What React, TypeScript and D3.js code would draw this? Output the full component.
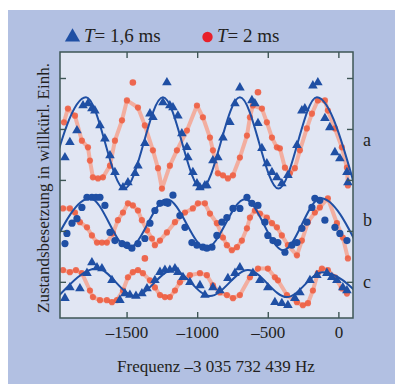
import React from "react";
import * as d3 from "d3";

type P = [number, number];

const xDomain: P = [-1975, 100];
const yDomain: P = [-0.7, 4.52];
const xTicks = [-1500, -1000, -500, 0];
const yTicks = [0, 1, 2, 3, 4];
const xTitle = "Frequenz –3 035 732 439 Hz";
const yTitle = "Zustandsbesetzung in willkürl. Einh.";
const legendLabels = ["= 1,6 ms", "= 2 ms"];
const rowNames = ["a", "b", "c"];
const rowLabelY = [2.78, 1.22, 0.0];

const aBlue: P[] = [[-1940,2.45],[-1905,2.75],[-1855,2.98],[-1812,3.47],[-1777,3.51],[-1749,3.41],[-1728,3.37],[-1692,3.08],[-1657,2.82],[-1621,2.49],[-1586,2.16],[-1529,1.86],[-1494,1.96],[-1444,2.14],[-1423,2.29],[-1374,2.73],[-1338,3.31],[-1317,3.24],[-1246,3.53],[-1218,3.92],[-1197,3.47],[-1175,3.43],[-1140,3.27],[-1112,2.92],[-1076,2.65],[-1069,2.45],[-1034,2.16],[-1005,1.94],[-984,1.86],[-949,1.90],[-935,1.90],[-892,2.39],[-857,2.45],[-821,2.84],[-772,3.14],[-736,3.51],[-701,3.82],[-616,3.57],[-595,3.51],[-573,3.12],[-545,2.63],[-510,2.33],[-474,2.16],[-439,2.06],[-404,1.94],[-361,2.10],[-297,2.69],[-262,3.37],[-241,3.41],[-184,3.86],[-149,3.92],[-99,3.22],[-64,3.04],[-28,2.55],[7,2.43],[57,2.16],[64,1.96]];
const aFit: P[] = [[-2064,1.84],[-1791,3.63],[-1519,1.84],[-1246,3.63],[-974,1.84],[-701,3.63],[-428,1.84],[-156,3.63],[117,1.84]];
const aRed: P[] = [[-1947,3.14],[-1919,3.41],[-1869,3.27],[-1820,2.78],[-1777,2.65],[-1763,2.39],[-1742,2.06],[-1706,2.04],[-1671,2.06],[-1621,2.29],[-1586,2.78],[-1536,3.18],[-1501,3.57],[-1423,3.43],[-1374,3.08],[-1317,2.59],[-1281,2.24],[-1253,1.84],[-1197,2.29],[-1147,2.59],[-1076,2.98],[-1005,3.47],[-963,3.24],[-913,2.84],[-892,2.59],[-857,2.14],[-821,2.10],[-786,2.04],[-750,2.10],[-701,2.45],[-651,2.88],[-630,3.24],[-609,3.47],[-545,3.41],[-510,3.14],[-474,2.84],[-439,2.65],[-418,2.63],[-382,2.25],[-347,2.14],[-312,2.24],[-276,2.59],[-227,3.02],[-191,3.31],[-149,3.57],[-99,3.57],[-78,3.37],[-28,3.02],[21,2.65],[57,2.25],[64,1.90]];

const bBlue: P[] = [[-1940,0.76],[-1926,0.96],[-1890,1.16],[-1855,1.25],[-1820,1.47],[-1784,1.67],[-1749,1.67],[-1720,1.67],[-1692,1.67],[-1657,1.51],[-1621,0.98],[-1586,0.82],[-1536,0.76],[-1501,0.73],[-1466,0.67],[-1423,0.76],[-1374,0.86],[-1338,1.16],[-1303,1.41],[-1267,1.55],[-1232,1.57],[-1211,1.55],[-1175,1.71],[-1126,1.31],[-1090,1.08],[-1041,0.78],[-1005,0.73],[-963,0.69],[-935,0.67],[-899,0.69],[-864,0.92],[-828,1.18],[-793,1.27],[-750,1.45],[-701,1.45],[-651,1.67],[-616,1.55],[-573,1.51],[-524,1.18],[-503,0.92],[-467,0.82],[-432,0.78],[-382,0.59],[-333,0.73],[-297,0.78],[-262,1.06],[-227,1.18],[-191,1.47],[-170,1.65],[-135,1.61],[-99,1.22],[-28,1.08],[7,0.96],[57,0.82]];
const bFit: P[] = [[-2036,0.67],[-1763,1.65],[-1490,0.67],[-1218,1.63],[-940,0.67],[-665,1.63],[-395,0.63],[-128,1.65],[145,0.65]];
const bRed: P[] = [[-1954,1.45],[-1905,1.45],[-1869,1.37],[-1834,1.18],[-1784,1.08],[-1749,0.92],[-1713,0.78],[-1678,0.78],[-1643,0.78],[-1600,0.96],[-1565,1.22],[-1529,1.37],[-1494,1.55],[-1459,1.51],[-1423,1.41],[-1395,1.22],[-1359,1.02],[-1324,0.86],[-1303,0.73],[-1267,0.82],[-1218,0.98],[-1161,1.18],[-1090,1.37],[-1034,1.45],[-998,1.55],[-949,1.55],[-913,1.35],[-864,1.16],[-821,0.88],[-793,0.73],[-758,0.63],[-722,0.69],[-687,0.82],[-651,1.06],[-630,1.27],[-595,1.41],[-559,1.35],[-510,1.27],[-474,1.16],[-439,1.08],[-404,0.92],[-361,0.73],[-297,0.53],[-262,0.82],[-219,1.18],[-170,1.37],[-135,1.47],[-78,1.65],[-14,1.16],[28,0.88],[64,0.47]];

const cBlue: P[] = [[-1940,-0.31],[-1905,-0.10],[-1834,-0.12],[-1784,0.18],[-1749,0.39],[-1713,0.29],[-1678,0.27],[-1607,0.04],[-1551,-0.35],[-1515,-0.22],[-1480,-0.25],[-1437,-0.27],[-1395,-0.22],[-1359,-0.12],[-1303,0.04],[-1267,0.20],[-1232,0.24],[-1197,0.24],[-1161,0.27],[-1140,0.20],[-1104,0.10],[-1055,0.00],[-984,-0.06],[-949,-0.25],[-892,-0.10],[-843,-0.16],[-786,0.08],[-736,0.18],[-701,0.29],[-609,0.18],[-559,0.04],[-503,-0.10],[-453,-0.39],[-404,-0.41],[-361,-0.45],[-312,-0.31],[-276,-0.20],[-205,0.04],[-156,0.14],[-85,0.18],[-50,0.10],[-14,0.04],[28,-0.10],[57,-0.16]];
const cFit: P[] = [[-1985,-0.27],[-1713,0.27],[-1444,-0.27],[-1175,0.24],[-913,-0.27],[-644,0.24],[-368,-0.29],[-113,0.20],[156,-0.27]];
const cRed: P[] = [[-1954,0.24],[-1905,0.20],[-1862,0.24],[-1820,0.18],[-1763,-0.16],[-1742,-0.29],[-1692,-0.35],[-1643,-0.35],[-1607,-0.39],[-1572,-0.35],[-1529,-0.16],[-1494,0.10],[-1459,0.20],[-1423,0.24],[-1388,0.18],[-1338,0.04],[-1303,-0.10],[-1267,-0.25],[-1232,-0.29],[-1197,-0.29],[-1161,-0.16],[-1126,0],[-1055,0.14],[-984,0.18],[-935,0.14],[-892,-0.06],[-843,-0.20],[-793,-0.25],[-750,-0.31],[-701,-0.25],[-630,0.10],[-573,0.27],[-503,0.27],[-453,0.10],[-432,0.04],[-368,-0.25],[-297,-0.39],[-255,-0.45],[-219,-0.41],[-184,-0.16],[-149,0.18],[-120,0.27],[-78,0.24],[-28,0.10],[21,-0.12],[57,-0.22]];

const extraRed: P[] = [[-1459,3.92],[-573,3.73],[-1374,0.47]];

const FONT = "'Liberation Serif', 'DejaVu Serif', serif";
const BLUE = "#1f4fa4";
const RED = "#ee5a3e";
const RED_LINE = "#f5a492";
const TEXT = "#231f20";

export default function App() {
  const L = 60, R = 353, T = 52, B = 318;
  const x = d3.scaleLinear().domain(xDomain).range([L, R]);
  const y = d3.scaleLinear().domain(yDomain).range([B, T]);
  const line = d3.line<P>().x(d => x(d[0])).y(d => y(d[1]));
  const fitLine = d3.line<P>().x(d => x(d[0])).y(d => y(d[1])).curve(d3.curveMonotoneX);
  const tri = d3.symbol(d3.symbolTriangle, 40)() || "";
  const legendTri = d3.symbol(d3.symbolTriangle, 100)() || "";

  const rows = [
    { blue: aBlue, fit: aFit, red: aRed, marker: "tri" },
    { blue: bBlue, fit: bFit, red: bRed, marker: "circle" },
    { blue: cBlue, fit: cFit, red: cRed, marker: "tri" },
  ];

  return (
    <svg width={395} height={384} style={{ position: "absolute", left: 0, top: 0 }} fontFamily={FONT}>
      <defs>
        <clipPath id="plotclip">
          <rect x={L} y={T} width={R - L} height={B - T} />
        </clipPath>
        <filter id="soft" x="-5%" y="-5%" width="110%" height="110%">
          <feGaussianBlur stdDeviation={0.7} />
        </filter>
      </defs>
      <rect x={0} y={0} width={395} height={384} fill="#ffffff" />
      <rect x={8} y={10} width={387} height={374} fill="#b2c0e2" />
      <rect x={L} y={T} width={R - L} height={B - T} fill="#e1e6f3" />

      <g clipPath="url(#plotclip)">
        <g filter="url(#soft)">
          {rows.map((r, i) => (
            <g key={"red" + i}>
              <path d={line(r.red) || ""} fill="none" stroke={RED_LINE} strokeWidth={4} strokeOpacity={0.85} strokeLinejoin="round" />
              {r.red.map((d, j) => (
                <circle key={j} cx={x(d[0])} cy={y(d[1])} r={3.1} fill={RED} fillOpacity={0.85} />
              ))}
            </g>
          ))}
          {extraRed.map((d, j) => (
            <circle key={"e" + j} cx={x(d[0])} cy={y(d[1])} r={3.3} fill={RED} fillOpacity={0.9} />
          ))}
        </g>
        {rows.map((r, i) => (
          <g key={"blue" + i}>
            <path d={fitLine(r.fit) || ""} fill="none" stroke={BLUE} strokeWidth={2} />
            {r.blue.map((d, j) =>
              r.marker === "tri" ? (
                <path key={j} d={tri} transform={`translate(${x(d[0])},${y(d[1])})`} fill={BLUE} />
              ) : (
                <circle key={j} cx={x(d[0])} cy={y(d[1])} r={3.6} fill={BLUE} />
              )
            )}
          </g>
        ))}
      </g>

      <g stroke="#3e5656" strokeWidth={1.4}>
        {xTicks.map(t => (
          <g key={"xt" + t}>
            <line x1={x(t)} x2={x(t)} y1={B} y2={B - 6} />
            <line x1={x(t)} x2={x(t)} y1={T} y2={T + 6} />
          </g>
        ))}
        {yTicks.map(t => (
          <g key={"yt" + t}>
            <line x1={L} x2={L + 6} y1={y(t)} y2={y(t)} />
            <line x1={R} x2={R - 6} y1={y(t)} y2={y(t)} />
          </g>
        ))}
      </g>
      <rect x={L} y={T} width={R - L} height={B - T} fill="none" stroke="#3e5656" strokeWidth={1.5} />

      {xTicks.map(t => (
        <text key={"xl" + t} x={x(t)} y={338} textAnchor="middle" fontSize={17} fill={TEXT}>
          {t < 0 ? "–" + Math.abs(t) : String(t)}
        </text>
      ))}
      <text x={216} y={372} textAnchor="middle" fontSize={17} fill={TEXT}>{xTitle}</text>
      <text transform="translate(49,188) rotate(-90)" textAnchor="middle" fontSize={17} fill={TEXT}>{yTitle}</text>

      {rowNames.map((n, i) => (
        <text key={n} x={363} y={y(rowLabelY[i])} dy="0.32em" fontSize={18} fill={TEXT}>{n}</text>
      ))}

      <path d={legendTri} transform="translate(72.5,37)" fill={BLUE} />
      <text x={84} y={42} fontSize={19} fill={TEXT}>
        <tspan fontStyle="italic">T</tspan>
        <tspan>{legendLabels[0]}</tspan>
      </text>
      <circle cx={207.5} cy={37} r={5.2} fill="#e8202a" />
      <text x={217} y={42} fontSize={19} fill={TEXT}>
        <tspan fontStyle="italic">T</tspan>
        <tspan>{legendLabels[1]}</tspan>
      </text>
    </svg>
  );
}
